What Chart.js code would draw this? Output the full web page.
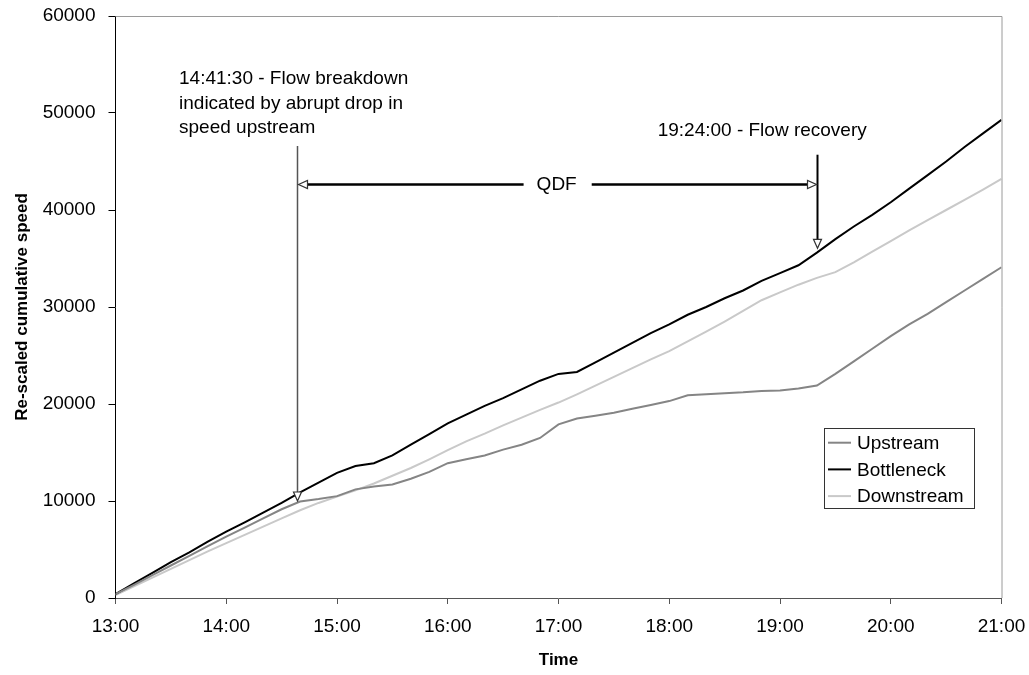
<!DOCTYPE html>
<html><head><meta charset="utf-8">
<script src="https://cdn.jsdelivr.net/npm/chart.js@4"></script>
<style>html,body{margin:0;padding:0;background:#fff;}</style>
</head><body>
<canvas id="c" width="1029" height="675"></canvas>
<script>
// ---------- data ----------
const times = ["13:00","13:10","13:20","13:30","13:40","13:50","14:00","14:10","14:20","14:30","14:40","14:50",
  "15:00","15:10","15:20","15:30","15:40","15:50","16:00","16:10","16:20","16:30","16:40","16:50",
  "17:00","17:10","17:20","17:30","17:40","17:50","18:00","18:10","18:20","18:30","18:40","18:50",
  "19:00","19:10","19:20","19:30","19:40","19:50","20:00","20:10","20:20","20:30","20:40","20:50","21:00"];
const upstream = [400,1350,2350,3350,4350,5350,6320,7250,8200,9150,9950,10200,
  10500,11200,11500,11700,12300,13000,13900,14300,14700,15300,15800,16500,
  17900,18500,18800,19100,19500,19900,20300,20900,21000,21100,21200,21350,
  21400,21600,21900,23100,24400,25700,27000,28200,29300,30500,31700,32900,34100];
const bottleneck = [400,1500,2600,3700,4700,5800,6850,7800,8800,9800,10900,11900,
  12900,13600,13900,14700,15800,16900,18000,18900,19800,20600,21500,22400,
  23100,23300,24300,25300,26300,27300,28200,29200,30000,30900,31700,32700,
  33500,34300,35600,37000,38300,39500,40800,42200,43600,45000,46500,47900,49300];
const downstream = [300,1200,2100,3000,3900,4800,5650,6500,7350,8200,9050,9800,
  10450,11100,11800,12600,13400,14300,15250,16150,16950,17800,18600,19400,
  20150,21000,21900,22800,23700,24600,25450,26450,27450,28500,29600,30700,
  31500,32300,33000,33600,34600,35700,36800,37900,38950,40000,41050,42100,43200];
const seriesNames = ["Upstream","Bottleneck","Downstream"];
const xTickLabels = ["13:00","14:00","15:00","16:00","17:00","18:00","19:00","20:00","21:00"];
const yTickValues = [0,10000,20000,30000,40000,50000,60000];
const xTitle = "Time";
const yTitle = "Re-scaled cumulative speed";

// annotations (data coordinates)
const breakdownMark = {time:"14:38:15", top:46600, tip:10000};
const recoveryMark  = {time:"19:20:00", top:45700, tip:36050};
const qdfLevel = 42630, qdfLabel = "QDF", qdfLabelTime = "16:59:00";
const breakdownNote = {time:"13:34:25", values:[53500,51000,48450],
  lines:["14:41:30 - Flow breakdown","indicated by abrupt drop in","speed upstream"]};
const recoveryNote = {time:"19:47:00", value:48150, text:"19:24:00 - Flow recovery"};

// ---------- helpers ----------
const toMin = s => { const p = s.split(":").map(Number); return p[0]*60 + p[1] + (p[2]||0)/60; };
const xs = times.map(toMin);
const pts = arr => arr.map((v,i)=>({x:xs[i], y:v}));
const FONT = "'Liberation Sans', Arial, sans-serif";
const colors = ["#858585","#000000","#c9c9c9"];

function arrowHead(ctx, x, y, dx, dy, color){
  const L = 9, W = 4;
  const bx = x - dx*L, by = y - dy*L;
  const px = -dy, py = dx;
  ctx.save();
  ctx.beginPath();
  ctx.moveTo(x,y);
  ctx.lineTo(bx+px*W, by+py*W);
  ctx.lineTo(bx-px*W, by-py*W);
  ctx.closePath();
  ctx.fillStyle = "#fff"; ctx.fill();
  ctx.lineWidth = 1.2; ctx.strokeStyle = color; ctx.stroke();
  ctx.restore();
}

const overlay = {
  id:"overlay",
  afterDatasetsDraw(chart){
    const {ctx, chartArea:ca, scales:{x,y}} = chart;
    ctx.save();
    // top & right plot border
    ctx.strokeStyle = "#9a9a9a"; ctx.lineWidth = 1;
    ctx.beginPath();
    ctx.moveTo(ca.left, ca.top+0.5); ctx.lineTo(ca.right+0.5, ca.top+0.5);
    ctx.lineTo(ca.right+0.5, ca.bottom);
    ctx.stroke();

    // breakdown vertical arrow
    const bx = Math.round(x.getPixelForValue(toMin(breakdownMark.time)))+0.5;
    const bTop = y.getPixelForValue(breakdownMark.top), bTip = y.getPixelForValue(breakdownMark.tip);
    ctx.strokeStyle = "#555"; ctx.lineWidth = 1.5;
    ctx.beginPath(); ctx.moveTo(bx,bTop); ctx.lineTo(bx,bTip-2); ctx.stroke();
    arrowHead(ctx, bx, bTip, 0, 1, "#333");

    // recovery vertical arrow
    const rx = Math.round(x.getPixelForValue(toMin(recoveryMark.time)))+0.5;
    const rTop = y.getPixelForValue(recoveryMark.top), rTip = y.getPixelForValue(recoveryMark.tip);
    ctx.strokeStyle = "#000"; ctx.lineWidth = 2;
    ctx.beginPath(); ctx.moveTo(rx,rTop); ctx.lineTo(rx,rTip-2); ctx.stroke();
    arrowHead(ctx, rx, rTip, 0, 1, "#333");

    // QDF double arrow
    const qy = y.getPixelForValue(qdfLevel);
    const qx = x.getPixelForValue(toMin(qdfLabelTime));
    ctx.font = "19px " + FONT;
    const tw = ctx.measureText(qdfLabel).width;
    ctx.strokeStyle = "#000"; ctx.lineWidth = 2.5;
    ctx.beginPath();
    ctx.moveTo(bx+8, qy); ctx.lineTo(qx - tw/2 - 13, qy);
    ctx.moveTo(qx + tw/2 + 15, qy); ctx.lineTo(rx-8, qy);
    ctx.stroke();
    arrowHead(ctx, bx+1, qy, -1, 0, "#333");
    arrowHead(ctx, rx-1, qy, 1, 0, "#333");
    ctx.fillStyle = "#000"; ctx.textAlign = "center"; ctx.textBaseline = "middle";
    ctx.fillText(qdfLabel, qx, qy);

    // notes
    ctx.textAlign = "left";
    const nx = x.getPixelForValue(toMin(breakdownNote.time));
    breakdownNote.lines.forEach((t,i)=> ctx.fillText(t, nx, y.getPixelForValue(breakdownNote.values[i])));
    ctx.textAlign = "right";
    ctx.fillText(recoveryNote.text, x.getPixelForValue(toMin(recoveryNote.time)), y.getPixelForValue(recoveryNote.value));

    // legend box
    const lx = ca.right - 177.5, ly = ca.bottom - 170, lw = 150, lh = 80;
    ctx.fillStyle = "#fff"; ctx.fillRect(lx, ly, lw, lh);
    ctx.strokeStyle = "#333"; ctx.lineWidth = 1;
    ctx.strokeRect(Math.round(lx)+0.5, Math.round(ly)+0.5, lw, lh);
    ctx.textAlign = "left"; ctx.textBaseline = "middle"; ctx.font = "19px " + FONT;
    chart.data.datasets.forEach((ds,i)=>{
      const ry = ly + 14.7 + i*26.7;
      ctx.strokeStyle = ds.borderColor; ctx.lineWidth = 2;
      ctx.beginPath(); ctx.moveTo(lx+4, ry); ctx.lineTo(lx+27, ry); ctx.stroke();
      ctx.fillStyle = "#000"; ctx.fillText(ds.label, lx+33, ry+1);
    });
    ctx.restore();
  }
};

const series = [upstream, bottleneck, downstream];
new Chart(document.getElementById("c"), {
  type:"line",
  data:{ datasets: series.map((arr,i)=>({
    label: seriesNames[i], data: pts(arr), borderColor: colors[i],
    borderWidth: 2, pointRadius: 0, tension: 0, fill:false
  }))},
  options:{
    responsive:false, animation:false, devicePixelRatio:1,
    layout:{padding:{top:16, right:27.5, left:0, bottom:0}},
    plugins:{legend:{display:false}, tooltip:{enabled:false}},
    scales:{
      x:{ type:"linear", min:toMin(xTickLabels[0]), max:toMin(xTickLabels[xTickLabels.length-1]),
        afterBuildTicks: s => { s.ticks = xTickLabels.map(t=>({value:toMin(t)})); },
        afterFit: s => { s.height = 77; s.paddingLeft = 0; s.paddingRight = 0; },
        ticks:{ autoSkip:false, maxRotation:0, padding:11, color:"#000",
          font:{family:FONT, size:19},
          callback: v => xTickLabels[xTickLabels.map(toMin).indexOf(v)] },
        grid:{ display:true, drawOnChartArea:false, drawTicks:true, tickLength:6, color:"#555" },
        border:{ display:true, color:"#555", width:1 },
        title:{ display:true, text:xTitle, color:"#000", font:{family:FONT, size:17, weight:"bold"},
          padding:{top:0, bottom:4} }
      },
      y:{ min:0, max:60000,
        afterBuildTicks: s => { s.ticks = yTickValues.map(v=>({value:v})); },
        afterFit: s => { s.width = 115.5; s.paddingTop = 0; s.paddingBottom = 0; },
        ticks:{ padding:13, color:"#000", font:{family:FONT, size:19}, callback: v => String(v) },
        grid:{ display:true, drawOnChartArea:false, drawTicks:true, tickLength:7, color:"#000" },
        border:{ display:true, color:"#000", width:1 },
        title:{ display:true, text:yTitle, color:"#000", font:{family:FONT, size:17, weight:"bold"},
          padding:{top:12, bottom:0} }
      }
    }
  },
  plugins:[overlay]
});
</script>
</body></html>
